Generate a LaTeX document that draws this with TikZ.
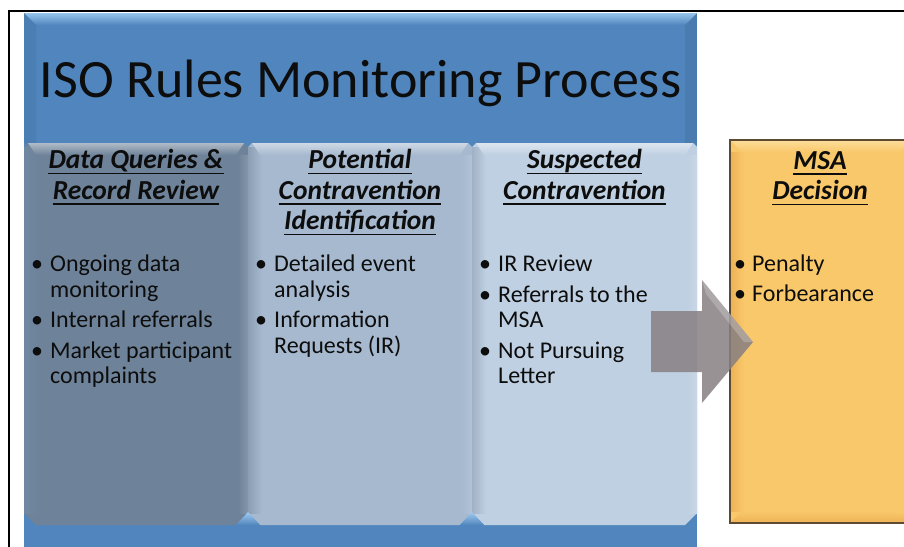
\documentclass[tikz,border=0pt]{standalone}
\usepackage{fontspec}
\setmainfont{Carlito}
\usetikzlibrary{calc}

\definecolor{outerblue}{RGB}{80,134,189}
\definecolor{outerhi}{RGB}{150,195,236}
\definecolor{junctionhi}{RGB}{160,202,240}
\definecolor{colA}{RGB}{110,131,153}
\definecolor{colAedge}{RGB}{111,136,162}
\definecolor{colB}{RGB}{166,185,207}
\definecolor{colBedge}{RGB}{140,158,180}
\definecolor{colC}{RGB}{191,208,226}
\definecolor{colCedge}{RGB}{160,177,198}
\definecolor{msaorange}{RGB}{249,200,107}
\definecolor{msahi}{RGB}{252,221,155}
\definecolor{msalow}{RGB}{236,178,85}
\definecolor{msaedge}{RGB}{92,74,50}
\definecolor{arrowgray}{RGB}{135,127,130}
\definecolor{ink}{RGB}{13,13,13}

\tikzset{
  pagetext/.style={inner sep=0pt, text=ink},
  titletxt/.style={pagetext, anchor=base, font=\fontsize{54}{60}\selectfont},
  hdr/.style={pagetext, anchor=base, font=\fontsize{27.5}{32}\selectfont\bfseries\itshape},
  itm/.style={pagetext, anchor=base west, font=\fontsize{24}{28}\selectfont},
  bul/.style={pagetext, anchor=base, font=\fontsize{24}{28}\selectfont},
  uline/.style={draw=ink, line width=1.8pt},
}

% one bevelled stage column: left x, right x, fill colour, left-edge tint
\newcommand\drawcol[4]{%
  \fill[#3] (#1+4,143) -- (#2-4,143) -- (#2,147) -- (#2,513) -- (#2-12,525)
        -- (#1+12,525) -- (#1,513) -- (#1,147) -- cycle;
  \shade[left color=#4, right color=#3] (#1,147) rectangle (#1+14,513);
  \shade[left color=#3, right color=white!15!#3] (#2-10,155) rectangle (#2,513);
  \shade[top color=white!45!#3, bottom color=#3]
        (#1+4,143) -- (#2-4,143) -- (#2-12,155) -- (#1+12,155) -- cycle;
}

\begin{document}
\begin{tikzpicture}[x=1pt,y=-1pt]
\useasboundingbox (0,0) rectangle (904,546);
\clip (0,0) rectangle (904,546);
\fill[white] (0,0) rectangle (904,546);

% slide frame
\draw[black, line width=1.5pt] (9,11) rectangle (930,570);

% blue backdrop panel
\fill[outerblue] (24,13) rectangle (697,570);
\shade[top color=outerhi, bottom color=outerblue]
  (24,13) -- (697,13) -- (685,25) -- (36,25) -- cycle;
\fill[black, opacity=0.05] (24,13) -- (36,25) -- (36,143) -- (24,143) -- cycle;
\fill[black, opacity=0.07] (697,13) -- (685,25) -- (685,143) -- (697,143) -- cycle;

% stage columns
\drawcol{24}{248}{colA}{colAedge}
\drawcol{248}{472}{colB}{colBedge}
\drawcol{472}{697}{colC}{colCedge}
\foreach \jx in {248,472}
  \shade[top color=junctionhi, bottom color=outerblue]
    (\jx-12,525) -- (\jx,512) -- (\jx+12,525) -- cycle;

% decision box
\fill[msaorange] (730,140) rectangle (912,523);
\shade[top color=msahi, bottom color=msaorange]
  (730,140) -- (912,140) -- (900,152) -- (742,152) -- cycle;
\shade[left color=msalow, right color=msaorange] (730,152) rectangle (744,511);
\shade[top color=msaorange, bottom color=msalow]
  (742,511) -- (900,511) -- (912,523) -- (730,523) -- cycle;
\draw[msaedge, line width=1.5pt] (730,140) rectangle (912,523);

% block arrow towards the decision
\fill[arrowgray, opacity=0.85]
  (651,311) -- (702,311) -- (702,280) -- (753,342) -- (702,403)
  -- (702,372) -- (651,372) -- cycle;
\fill[white, opacity=0.22] (702,280) -- (753,342) -- (744,342) -- (706,294) -- cycle;

% title
\node[titletxt] (title) at (360.5,97) {ISO Rules Monitoring Process};

% column headings
\node[hdr] (h1a) at (136,168.5) {Data Queries \&};
\node[hdr] (h1b) at (136,199) {Record Review};
\node[hdr] (h2a) at (360,168.5) {Potential};
\node[hdr] (h2b) at (360,199) {Contravention};
\node[hdr] (h2c) at (360,229.5) {Identification};
\node[hdr] (h3a) at (584.5,168.5) {Suspected};
\node[hdr] (h3b) at (584.5,199) {Contravention};
\node[hdr] (h4a) at (820,169) {MSA};
\node[hdr] (h4b) at (820,199.5) {Decision};
\foreach \n in {h1a,h1b,h2a,h2b,h2c,h3a,h3b,h4a,h4b}
  \draw[uline] ([yshift=-5pt]\n.base west) -- ([yshift=-5pt]\n.base east);

% bullet marks
\foreach \nm/\bx/\by in {d1a/37/271.5, d1b/37/327.5, d1c/37/358,
                         d2a/261/271.5, d2b/261/327.5,
                         d3a/485/271.5, d3b/485/302, d3c/485/358,
                         d4a/740/271.5, d4b/740/301}
  \node[bul, name=\nm] at (\bx,\by) {\textbullet};

% column 1 items
\node[itm] (t1a) at (50,271.5) {Ongoing data};
\node[itm] (t1b) at (50,297) {monitoring};
\node[itm] (t1c) at (50,327.5) {Internal referrals};
\node[itm] (t1d) at (50,358) {Market participant};
\node[itm] (t1e) at (50,383.5) {complaints};

% column 2 items
\node[itm] (t2a) at (274,271.5) {Detailed event};
\node[itm] (t2b) at (274,297) {analysis};
\node[itm] (t2c) at (274,327.5) {Information};
\node[itm] (t2d) at (274,353) {Requests (IR)};

% column 3 items
\node[itm] (t3a) at (498,271.5) {IR Review};
\node[itm] (t3b) at (498,302) {Referrals to the};
\node[itm] (t3c) at (498,327.5) {MSA};
\node[itm] (t3d) at (498,358) {Not Pursuing};
\node[itm] (t3e) at (498,383.5) {Letter};

% decision items
\node[itm] (t4a) at (752,271.5) {Penalty};
\node[itm] (t4b) at (752,301) {Forbearance};
\end{tikzpicture}
\end{document}
